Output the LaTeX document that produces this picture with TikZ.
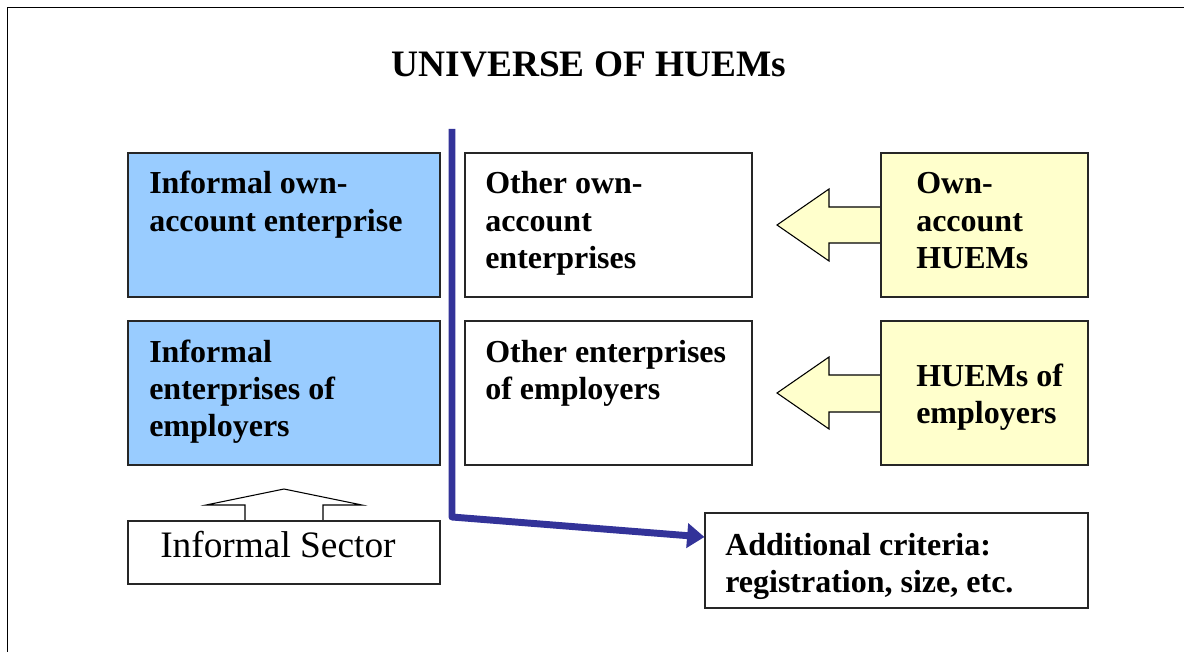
\documentclass[tikz,border=0pt]{standalone}
\usepackage{fontspec}
\setmainfont{Liberation Serif}
\usetikzlibrary{arrows.meta,fit}
\definecolor{boxblue}{HTML}{99CCFF}
\definecolor{boxyellow}{HTML}{FFFFCC}
\definecolor{linkblue}{HTML}{333399}
\newcommand{\mylines}[1]{\begin{tabular}[t]{@{}l@{}}#1\end{tabular}}
\begin{document}
\begin{tikzpicture}[x=0.75pt,y=-0.75pt,
  box/.style={draw=black!85,line width=0.8pt,inner sep=0pt},
  txt/.style={anchor=base west,inner sep=0pt,font=\fontsize{24}{28}\selectfont\bfseries},
  bigarrow/.style={draw=black,line width=0.8pt,line join=miter},
  link/.style={draw=linkblue,line width=5.2pt,line join=round,-{Triangle[length=13pt,width=18pt]}}]
\useasboundingbox (0,0) rectangle (1184,652);
% frame
\draw[line width=1.2pt] (7.5,652) -- (7.5,7.5) -- (1184,7.5);
% title
\node[anchor=base,inner sep=0pt,font=\fontsize{28}{32}\selectfont\bfseries] (title) at (589,77) {UNIVERSE OF HUEMs};
% yellow arrows (drawn before boxes)
\filldraw[bigarrow,fill=boxyellow] (881,207) -- (829,207) -- (829,189) -- (777,225) -- (829,261) -- (829,243) -- (881,243);
\filldraw[bigarrow,fill=boxyellow] (881,375) -- (829,375) -- (829,357) -- (777,393) -- (829,429) -- (829,412) -- (881,412);
% up arrow
\filldraw[bigarrow,fill=white] (245,521) -- (245,505) -- (206,505) -- (284,489) -- (362,505) -- (323,505) -- (323,521);
% boxes
\node[box,fill=boxblue,fit={(128,153) (440,297)}] (a) {};
\node[box,fill=white,fit={(465,153) (752,297)}] (b) {};
\node[box,fill=boxyellow,fit={(881,153) (1088,297)}] (c) {};
\node[box,fill=boxblue,fit={(128,321) (440,465)}] (d) {};
\node[box,fill=white,fit={(465,321) (752,465)}] (e) {};
\node[box,fill=boxyellow,fit={(881,321) (1088,465)}] (f) {};
\node[box,fill=white,fit={(128,521) (440,584)}] (s) {};
\node[box,fill=white,fit={(705,513) (1088,608)}] (g) {};
% texts
\node[txt] (ta) at (149,194) {\mylines{Informal own-\\account enterprise}};
\node[txt] (tb) at (485,194) {\mylines{Other own-\\account\\enterprises}};
\node[txt] (tc) at (916,194) {\mylines{Own-\\account\\HUEMs}};
\node[txt] (td) at (149,362) {\mylines{Informal\\enterprises of\\employers}};
\node[txt] (te) at (485,362) {\mylines{Other enterprises\\of employers}};
\node[txt] (tf) at (916,386) {\mylines{HUEMs of\\employers}};
\node[txt] (tg) at (725,555) {\mylines{Additional criteria:\\registration, size, etc.}};
\node[anchor=base west,inner sep=0pt,font=\fontsize{28}{32}\selectfont] (ts) at (160,557) {Informal Sector};
% blue connector
\coordinate (ltop) at (452,129);
\coordinate (lcorner) at (452,517);
\coordinate (lend) at (g.west |- 0,537);
\draw[link] (ltop) -- (lcorner) -- (lend);
\end{tikzpicture}
\end{document}
